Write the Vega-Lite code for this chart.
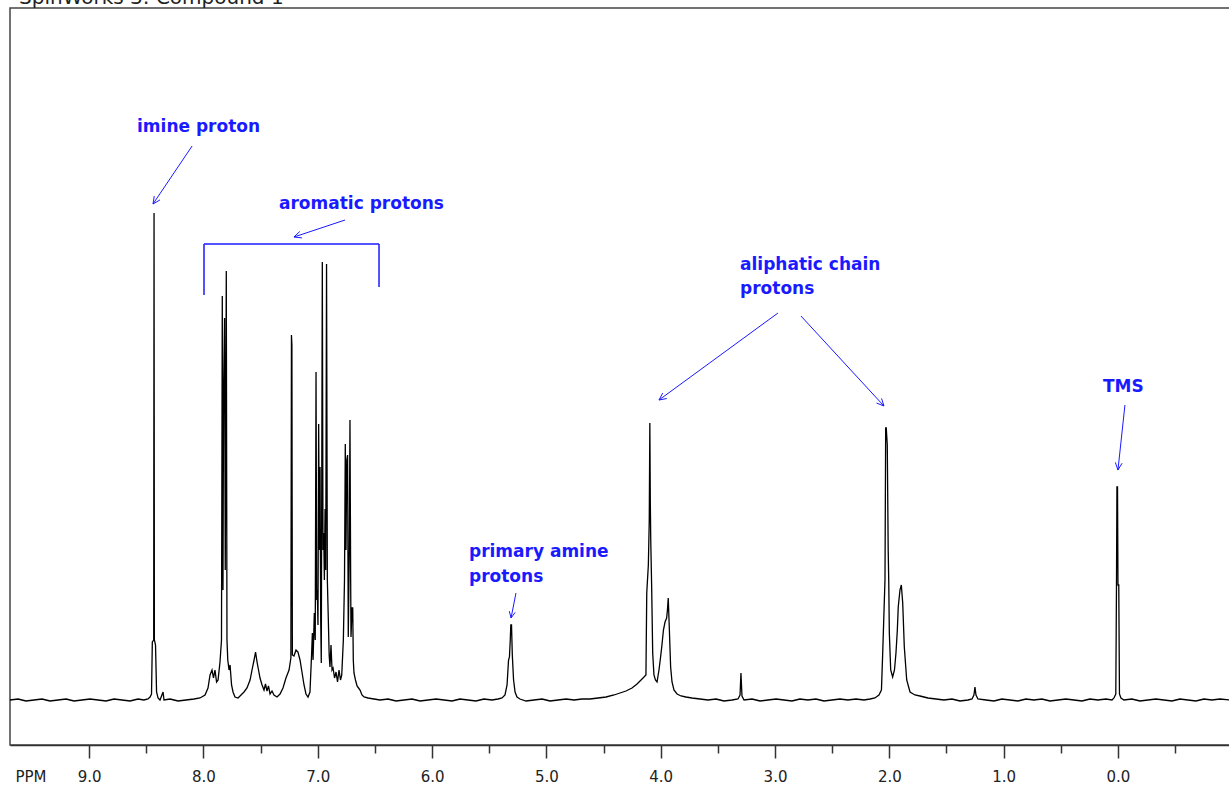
{
  "$schema": "https://vega.github.io/schema/vega-lite/v6.json",
  "width": 1220,
  "height": 737,
  "autosize": "none",
  "padding": {"left": 10, "top": 8, "right": 0, "bottom": 42},
  "background": "white",
  "config": {
    "view": {"stroke": "#444", "strokeWidth": 1.5},
    "axis": {"grid": false}
  },
  "datasets": {
    "caption": [
      {"ppm": 9.613, "i": 696, "label": "SpinWorks 3: Compound 1"}
    ],
    "spectrum": [
      {"ppm": 9.692, "i": 0}, {"ppm": 9.622, "i": 1}, {"ppm": 9.552, "i": -1}, {"ppm": 9.482, "i": 0},
      {"ppm": 9.412, "i": 1}, {"ppm": 9.342, "i": -1}, {"ppm": 9.272, "i": 0}, {"ppm": 9.202, "i": 1},
      {"ppm": 9.132, "i": -1}, {"ppm": 9.062, "i": 0}, {"ppm": 8.992, "i": 1}, {"ppm": 8.922, "i": 0},
      {"ppm": 8.852, "i": -1}, {"ppm": 8.782, "i": 1}, {"ppm": 8.712, "i": 0}, {"ppm": 8.642, "i": -1},
      {"ppm": 8.572, "i": 1}, {"ppm": 8.52, "i": 0}, {"ppm": 8.485, "i": 1}, {"ppm": 8.467, "i": 3},
      {"ppm": 8.454, "i": 6}, {"ppm": 8.447, "i": 58}, {"ppm": 8.435, "i": 60}, {"ppm": 8.432, "i": 487},
      {"ppm": 8.429, "i": 60}, {"ppm": 8.419, "i": 55}, {"ppm": 8.41, "i": 8}, {"ppm": 8.397, "i": 2},
      {"ppm": 8.38, "i": 0}, {"ppm": 8.353, "i": 8}, {"ppm": 8.345, "i": 0}, {"ppm": 8.292, "i": 1},
      {"ppm": 8.222, "i": -1}, {"ppm": 8.152, "i": 0}, {"ppm": 8.082, "i": 1}, {"ppm": 8.03, "i": 2},
      {"ppm": 7.986, "i": 5}, {"ppm": 7.96, "i": 12}, {"ppm": 7.942, "i": 25}, {"ppm": 7.925, "i": 30},
      {"ppm": 7.912, "i": 22}, {"ppm": 7.899, "i": 30}, {"ppm": 7.885, "i": 18}, {"ppm": 7.872, "i": 20},
      {"ppm": 7.855, "i": 38}, {"ppm": 7.842, "i": 60}, {"ppm": 7.835, "i": 404}, {"ppm": 7.829, "i": 110},
      {"ppm": 7.824, "i": 300}, {"ppm": 7.815, "i": 382}, {"ppm": 7.809, "i": 130}, {"ppm": 7.8, "i": 429},
      {"ppm": 7.794, "i": 60}, {"ppm": 7.787, "i": 40}, {"ppm": 7.776, "i": 30}, {"ppm": 7.767, "i": 35},
      {"ppm": 7.754, "i": 15}, {"ppm": 7.741, "i": 8}, {"ppm": 7.724, "i": 3}, {"ppm": 7.697, "i": 2},
      {"ppm": 7.671, "i": 5}, {"ppm": 7.645, "i": 8}, {"ppm": 7.619, "i": 12}, {"ppm": 7.592, "i": 20},
      {"ppm": 7.575, "i": 30}, {"ppm": 7.557, "i": 40}, {"ppm": 7.544, "i": 48}, {"ppm": 7.531, "i": 38},
      {"ppm": 7.518, "i": 30}, {"ppm": 7.505, "i": 22}, {"ppm": 7.487, "i": 15}, {"ppm": 7.47, "i": 10},
      {"ppm": 7.457, "i": 16}, {"ppm": 7.444, "i": 9}, {"ppm": 7.431, "i": 14}, {"ppm": 7.417, "i": 6},
      {"ppm": 7.4, "i": 9}, {"ppm": 7.383, "i": 5}, {"ppm": 7.356, "i": 3}, {"ppm": 7.33, "i": 6},
      {"ppm": 7.304, "i": 12}, {"ppm": 7.278, "i": 22}, {"ppm": 7.251, "i": 30}, {"ppm": 7.235, "i": 42},
      {"ppm": 7.23, "i": 365}, {"ppm": 7.226, "i": 355}, {"ppm": 7.222, "i": 45}, {"ppm": 7.208, "i": 44},
      {"ppm": 7.19, "i": 50}, {"ppm": 7.173, "i": 48}, {"ppm": 7.155, "i": 40}, {"ppm": 7.138, "i": 28},
      {"ppm": 7.12, "i": 15}, {"ppm": 7.103, "i": 6}, {"ppm": 7.085, "i": 3}, {"ppm": 7.068, "i": 8},
      {"ppm": 7.054, "i": 45}, {"ppm": 7.047, "i": 67}, {"ppm": 7.041, "i": 40}, {"ppm": 7.03, "i": 87},
      {"ppm": 7.022, "i": 60}, {"ppm": 7.015, "i": 328}, {"ppm": 7.009, "i": 100}, {"ppm": 7.004, "i": 110},
      {"ppm": 6.998, "i": 75}, {"ppm": 6.992, "i": 276}, {"ppm": 6.986, "i": 150}, {"ppm": 6.98, "i": 233},
      {"ppm": 6.974, "i": 80}, {"ppm": 6.969, "i": 37}, {"ppm": 6.96, "i": 438}, {"ppm": 6.954, "i": 150},
      {"ppm": 6.948, "i": 167}, {"ppm": 6.942, "i": 120}, {"ppm": 6.936, "i": 191}, {"ppm": 6.93, "i": 130},
      {"ppm": 6.923, "i": 436}, {"ppm": 6.916, "i": 120}, {"ppm": 6.908, "i": 83}, {"ppm": 6.9, "i": 45},
      {"ppm": 6.893, "i": 33}, {"ppm": 6.884, "i": 55}, {"ppm": 6.875, "i": 30}, {"ppm": 6.866, "i": 32},
      {"ppm": 6.853, "i": 22}, {"ppm": 6.84, "i": 28}, {"ppm": 6.827, "i": 18}, {"ppm": 6.814, "i": 30},
      {"ppm": 6.801, "i": 20}, {"ppm": 6.79, "i": 25}, {"ppm": 6.776, "i": 60}, {"ppm": 6.766, "i": 120},
      {"ppm": 6.759, "i": 256}, {"ppm": 6.753, "i": 150}, {"ppm": 6.746, "i": 240}, {"ppm": 6.739, "i": 245},
      {"ppm": 6.733, "i": 63}, {"ppm": 6.724, "i": 150}, {"ppm": 6.718, "i": 280}, {"ppm": 6.712, "i": 120},
      {"ppm": 6.709, "i": 63}, {"ppm": 6.7, "i": 92}, {"ppm": 6.694, "i": 92}, {"ppm": 6.689, "i": 40},
      {"ppm": 6.683, "i": 27}, {"ppm": 6.67, "i": 20}, {"ppm": 6.656, "i": 14}, {"ppm": 6.643, "i": 12},
      {"ppm": 6.63, "i": 10}, {"ppm": 6.613, "i": 5}, {"ppm": 6.595, "i": 3}, {"ppm": 6.56, "i": 2},
      {"ppm": 6.508, "i": 1}, {"ppm": 6.455, "i": 0}, {"ppm": 6.385, "i": 1}, {"ppm": 6.315, "i": -1},
      {"ppm": 6.245, "i": 0}, {"ppm": 6.175, "i": 1}, {"ppm": 6.105, "i": -1}, {"ppm": 6.035, "i": 0},
      {"ppm": 5.965, "i": 1}, {"ppm": 5.895, "i": 0}, {"ppm": 5.825, "i": -1}, {"ppm": 5.756, "i": 1},
      {"ppm": 5.686, "i": 0}, {"ppm": 5.616, "i": -1}, {"ppm": 5.546, "i": 1}, {"ppm": 5.476, "i": 0},
      {"ppm": 5.423, "i": 1}, {"ppm": 5.388, "i": 2}, {"ppm": 5.362, "i": 5}, {"ppm": 5.344, "i": 15},
      {"ppm": 5.331, "i": 40}, {"ppm": 5.323, "i": 43}, {"ppm": 5.316, "i": 60}, {"ppm": 5.311, "i": 75},
      {"ppm": 5.305, "i": 75}, {"ppm": 5.298, "i": 45}, {"ppm": 5.287, "i": 20}, {"ppm": 5.274, "i": 8},
      {"ppm": 5.257, "i": 3}, {"ppm": 5.231, "i": 1}, {"ppm": 5.178, "i": -1}, {"ppm": 5.108, "i": 0},
      {"ppm": 5.038, "i": 1}, {"ppm": 4.968, "i": -1}, {"ppm": 4.898, "i": 0}, {"ppm": 4.828, "i": 1},
      {"ppm": 4.758, "i": 0}, {"ppm": 4.688, "i": 1}, {"ppm": 4.618, "i": 1}, {"ppm": 4.548, "i": 2},
      {"ppm": 4.478, "i": 3}, {"ppm": 4.408, "i": 5}, {"ppm": 4.356, "i": 7}, {"ppm": 4.304, "i": 9},
      {"ppm": 4.251, "i": 12}, {"ppm": 4.207, "i": 16}, {"ppm": 4.172, "i": 20}, {"ppm": 4.146, "i": 23},
      {"ppm": 4.129, "i": 25}, {"ppm": 4.122, "i": 107}, {"ppm": 4.108, "i": 135}, {"ppm": 4.1, "i": 180},
      {"ppm": 4.095, "i": 277}, {"ppm": 4.091, "i": 200}, {"ppm": 4.087, "i": 160}, {"ppm": 4.079, "i": 113},
      {"ppm": 4.07, "i": 47}, {"ppm": 4.059, "i": 25}, {"ppm": 4.046, "i": 20}, {"ppm": 4.032, "i": 18},
      {"ppm": 4.015, "i": 30}, {"ppm": 4.002, "i": 42}, {"ppm": 3.989, "i": 55}, {"ppm": 3.976, "i": 70},
      {"ppm": 3.962, "i": 78}, {"ppm": 3.948, "i": 82}, {"ppm": 3.941, "i": 90}, {"ppm": 3.934, "i": 102},
      {"ppm": 3.925, "i": 73}, {"ppm": 3.913, "i": 33}, {"ppm": 3.901, "i": 18}, {"ppm": 3.884, "i": 10},
      {"ppm": 3.857, "i": 6}, {"ppm": 3.822, "i": 4}, {"ppm": 3.779, "i": 3}, {"ppm": 3.726, "i": 2},
      {"ppm": 3.656, "i": 1}, {"ppm": 3.586, "i": 0}, {"ppm": 3.516, "i": 1}, {"ppm": 3.446, "i": -1},
      {"ppm": 3.376, "i": 0}, {"ppm": 3.324, "i": 1}, {"ppm": 3.306, "i": 5}, {"ppm": 3.298, "i": 27},
      {"ppm": 3.289, "i": 4}, {"ppm": 3.271, "i": 0}, {"ppm": 3.201, "i": 1}, {"ppm": 3.131, "i": -1},
      {"ppm": 3.061, "i": 0}, {"ppm": 2.991, "i": 1}, {"ppm": 2.921, "i": 0}, {"ppm": 2.852, "i": -1},
      {"ppm": 2.782, "i": 1}, {"ppm": 2.712, "i": 0}, {"ppm": 2.642, "i": 1}, {"ppm": 2.572, "i": -1},
      {"ppm": 2.502, "i": 0}, {"ppm": 2.432, "i": 1}, {"ppm": 2.362, "i": 0}, {"ppm": 2.292, "i": 1},
      {"ppm": 2.222, "i": 0}, {"ppm": 2.169, "i": 1}, {"ppm": 2.126, "i": 2}, {"ppm": 2.091, "i": 5},
      {"ppm": 2.069, "i": 10}, {"ppm": 2.058, "i": 47}, {"ppm": 2.049, "i": 80}, {"ppm": 2.038, "i": 120},
      {"ppm": 2.032, "i": 272}, {"ppm": 2.027, "i": 272}, {"ppm": 2.018, "i": 255}, {"ppm": 2.01, "i": 150},
      {"ppm": 2.005, "i": 118}, {"ppm": 2.0, "i": 67}, {"ppm": 1.988, "i": 30}, {"ppm": 1.971, "i": 23},
      {"ppm": 1.955, "i": 30}, {"ppm": 1.942, "i": 47}, {"ppm": 1.93, "i": 70}, {"ppm": 1.922, "i": 93},
      {"ppm": 1.907, "i": 110}, {"ppm": 1.895, "i": 115}, {"ppm": 1.883, "i": 97}, {"ppm": 1.869, "i": 53},
      {"ppm": 1.848, "i": 20}, {"ppm": 1.819, "i": 8}, {"ppm": 1.776, "i": 5}, {"ppm": 1.732, "i": 4},
      {"ppm": 1.662, "i": 2}, {"ppm": 1.592, "i": 1}, {"ppm": 1.522, "i": 0}, {"ppm": 1.452, "i": 1},
      {"ppm": 1.382, "i": -1}, {"ppm": 1.312, "i": 0}, {"ppm": 1.277, "i": 1}, {"ppm": 1.26, "i": 5},
      {"ppm": 1.251, "i": 13}, {"ppm": 1.242, "i": 5}, {"ppm": 1.225, "i": 1}, {"ppm": 1.155, "i": 0},
      {"ppm": 1.085, "i": -1}, {"ppm": 1.015, "i": 1}, {"ppm": 0.945, "i": 0}, {"ppm": 0.875, "i": -1},
      {"ppm": 0.805, "i": 1}, {"ppm": 0.735, "i": 0}, {"ppm": 0.665, "i": 1}, {"ppm": 0.595, "i": -1},
      {"ppm": 0.525, "i": 0}, {"ppm": 0.455, "i": 1}, {"ppm": 0.385, "i": 0}, {"ppm": 0.315, "i": -1},
      {"ppm": 0.245, "i": 1}, {"ppm": 0.175, "i": 0}, {"ppm": 0.105, "i": 1}, {"ppm": 0.052, "i": 0},
      {"ppm": 0.035, "i": 2}, {"ppm": 0.019, "i": 6}, {"ppm": 0.013, "i": 115}, {"ppm": 0.009, "i": 213},
      {"ppm": 0.004, "i": 213}, {"ppm": 0.0, "i": 115}, {"ppm": -0.007, "i": 115}, {"ppm": -0.013, "i": 6},
      {"ppm": -0.026, "i": 2}, {"ppm": -0.052, "i": 0}, {"ppm": -0.122, "i": 1}, {"ppm": -0.192, "i": -1},
      {"ppm": -0.262, "i": 0}, {"ppm": -0.332, "i": 1}, {"ppm": -0.402, "i": 0}, {"ppm": -0.472, "i": -1},
      {"ppm": -0.542, "i": 1}, {"ppm": -0.612, "i": 0}, {"ppm": -0.682, "i": -1}, {"ppm": -0.752, "i": 1},
      {"ppm": -0.822, "i": 0}, {"ppm": -0.892, "i": 1}, {"ppm": -0.98, "i": 0}
    ],
    "arrows": [
      {"ppm": 8.099, "i": 554, "ppm2": 8.441, "i2": 496},
      {"ppm": 8.441, "i": 496, "ppm2": 8.38, "i2": 500.1},
      {"ppm": 8.441, "i": 496, "ppm2": 8.43, "i2": 503.9},
      {"ppm": 6.761, "i": 480, "ppm2": 7.208, "i2": 463},
      {"ppm": 7.208, "i": 463, "ppm2": 7.138, "i2": 462.1},
      {"ppm": 7.208, "i": 463, "ppm2": 7.157, "i2": 468.5},
      {"ppm": 2.974, "i": 387, "ppm2": 4.015, "i2": 300},
      {"ppm": 4.015, "i": 300, "ppm2": 3.947, "i2": 301.5},
      {"ppm": 4.015, "i": 300, "ppm2": 3.982, "i2": 307},
      {"ppm": 2.773, "i": 384, "ppm2": 2.047, "i2": 294},
      {"ppm": 2.047, "i": 294, "ppm2": 2.068, "i2": 301.6},
      {"ppm": 2.047, "i": 294, "ppm2": 2.112, "i2": 297},
      {"ppm": 5.266, "i": 107, "ppm2": 5.309, "i2": 82},
      {"ppm": 5.309, "i": 82, "ppm2": 5.273, "i2": 87.6},
      {"ppm": 5.309, "i": 82, "ppm2": 5.324, "i2": 88.8},
      {"ppm": -0.061, "i": 295, "ppm2": 0.0, "i2": 230},
      {"ppm": 0.0, "i": 230, "ppm2": -0.036, "i2": 236.8},
      {"ppm": 0.0, "i": 230, "ppm2": 0.023, "i2": 237.6}
    ],
    "bracket": [
      {"ppm": 7.995, "i": 456, "ppm2": 6.464, "i2": 456},
      {"ppm": 7.995, "i": 456, "ppm2": 7.995, "i2": 405},
      {"ppm": 6.464, "i": 456, "ppm2": 6.464, "i2": 413}
    ],
    "labels": [
      {"ppm": 8.581, "i": 573, "label": "imine proton"},
      {"ppm": 7.339, "i": 496, "label": "aromatic protons"},
      {"ppm": 3.306, "i": 435, "label": "aliphatic chain"},
      {"ppm": 3.306, "i": 411, "label": "protons"},
      {"ppm": 5.677, "i": 148, "label": "primary amine"},
      {"ppm": 5.677, "i": 123, "label": "protons"},
      {"ppm": 0.131, "i": 313, "label": "TMS"}
    ]
  },
  "layer": [
    {
      "data": {"name": "spectrum"},
      "mark": {"type": "line", "color": "#000", "strokeWidth": 1.3, "interpolate": "linear"},
      "encoding": {
        "x": {
          "field": "ppm", "type": "quantitative",
          "scale": {"domain": [-0.98, 9.692], "reverse": true, "nice": false, "zero": false},
          "axis": {
            "title": "PPM",
            "titleAngle": 0, "titleAlign": "left", "titleBaseline": "middle",
            "titleX": 5, "titleY": 31, "titleFont": "DejaVu Sans", "titleFontSize": 15,
            "titleFontWeight": "normal", "titleColor": "#222",
            "values": [-0.5, 0, 0.5, 1, 1.5, 2, 2.5, 3, 3.5, 4, 4.5, 5, 5.5, 6, 6.5, 7, 7.5, 8, 8.5, 9],
            "labelExpr": "datum.value % 1 === 0 ? format(datum.value, '.1f') : ''",
            "labelFont": "DejaVu Sans", "labelFontSize": 15, "labelColor": "#222",
            "labelBaseline": "middle", "labelPadding": 18, "labelFlush": false, "labelOverlap": false,
            "tickSize": {"condition": {"test": "datum.value % 1 !== 0", "value": 8}, "value": 13},
            "tickColor": "#333", "tickWidth": 1.5,
            "domainColor": "#333", "domainWidth": 1.5
          }
        },
        "y": {
          "field": "i", "type": "quantitative",
          "scale": {"domain": [-45, 692], "nice": false, "zero": false},
          "axis": null
        }
      }
    },
    {
      "data": {"name": "arrows"},
      "mark": {"type": "rule", "color": "#1a1aff", "strokeWidth": 1},
      "encoding": {
        "x": {"field": "ppm", "type": "quantitative"},
        "y": {"field": "i", "type": "quantitative"},
        "x2": {"field": "ppm2"},
        "y2": {"field": "i2"}
      }
    },
    {
      "data": {"name": "bracket"},
      "mark": {"type": "rule", "color": "#1a1aff", "strokeWidth": 1.5},
      "encoding": {
        "x": {"field": "ppm", "type": "quantitative"},
        "y": {"field": "i", "type": "quantitative"},
        "x2": {"field": "ppm2"},
        "y2": {"field": "i2"}
      }
    },
    {
      "data": {"name": "labels"},
      "mark": {"type": "text", "color": "#1a1aff", "font": "DejaVu Sans", "fontSize": 17, "fontWeight": "bold", "align": "left", "baseline": "middle"},
      "encoding": {
        "x": {"field": "ppm", "type": "quantitative"},
        "y": {"field": "i", "type": "quantitative"},
        "text": {"field": "label"}
      }
    },
    {
      "data": {"name": "caption"},
      "mark": {"type": "text", "color": "#222", "font": "DejaVu Sans", "fontSize": 20, "align": "left", "baseline": "alphabetic", "clip": false},
      "encoding": {
        "x": {"field": "ppm", "type": "quantitative"},
        "y": {"field": "i", "type": "quantitative"},
        "text": {"field": "label"}
      }
    }
  ]
}
